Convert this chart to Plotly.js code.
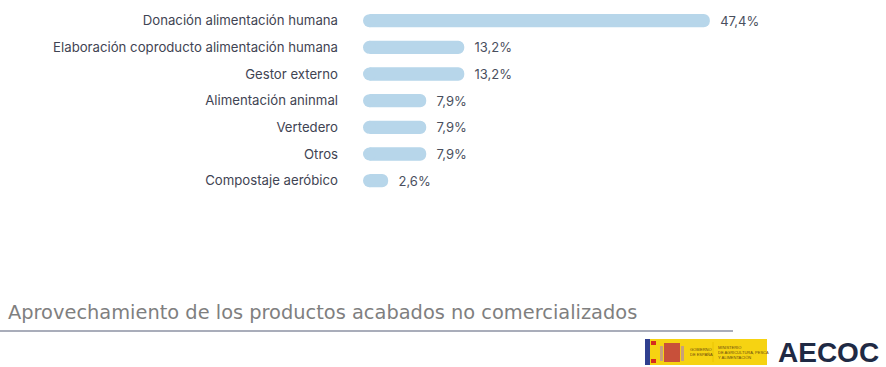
<!DOCTYPE html>
<html>
<head>
<meta charset="utf-8">
<script src="https://cdn.plot.ly/plotly-3.0.1.min.js"></script>
<style>html,body{margin:0;padding:0;background:#fff;}#chart{width:886px;height:367px;}</style>
</head>
<body>
<div id="chart"></div>
<script>
const categories = [
  "Donación alimentación humana",
  "Elaboración coproducto alimentación humana",
  "Gestor externo",
  "Alimentación aninmal",
  "Vertedero",
  "Otros",
  "Compostaje aeróbico"
];
const values = [47.4, 13.2, 13.2, 7.9, 7.9, 7.9, 2.6];
const valueLabels = ["47,4%", "13,2%", "13,2%", "7,9%", "7,9%", "7,9%", "2,6%"];
const chartTitle = "Aprovechamiento de los productos acabados no comercializados";

const W = 886, H = 367;
const px = x => x / W;
const py = y => 1 - y / H;
const barColor = "#b7d6ea";

const bars = {
  type: "bar",
  orientation: "h",
  y: categories,
  x: values,
  width: 0.5,
  marker: { color: barColor, cornerradius: 7 },
  text: valueLabels.map(t => "\u00a0\u00a0" + t),
  textposition: "outside",
  constraintext: "none",
  cliponaxis: false,
  textfont: { family: "Inter, Roboto, sans-serif", size: 13, color: "#4a4f5e" },
  hoverinfo: "skip"
};
const caps = {
  type: "scatter",
  mode: "markers",
  y: categories,
  x: categories.map(() => 0),
  marker: { color: barColor, size: 13, symbol: "circle" },
  cliponaxis: false,
  hoverinfo: "skip"
};

const layout = {
  width: W, height: H,
  margin: { l: 0, r: 0, t: 0, b: 0 },
  paper_bgcolor: "#ffffff",
  plot_bgcolor: "rgba(0,0,0,0)",
  showlegend: false,
  barcornerradius: 7,
  xaxis: {
    domain: [px(363), 1],
    range: [-0.905, 71.94],
    visible: false,
    fixedrange: true
  },
  yaxis: {
    domain: [py(194), py(7.3)],
    type: "category",
    autorange: false,
    range: [6.5, -0.5],
    showgrid: false,
    zeroline: false,
    showline: false,
    ticks: "",
    ticklabelstandoff: 24,
    tickfont: { family: "Inter, Roboto, sans-serif", size: 13.2, color: "#3f4453" }
  },
  shapes: [
    { type: "line", xref: "paper", yref: "paper", x0: 0, x1: px(733), y0: py(331), y1: py(331),
      line: { color: "#8d92a3", width: 1.5 } },
    { type: "rect", xref: "paper", yref: "paper", x0: px(645), x1: px(767), y0: py(365), y1: py(339),
      fillcolor: "#f6d312", line: { width: 0 } },
    { type: "rect", xref: "paper", yref: "paper", x0: px(645), x1: px(650), y0: py(365), y1: py(339),
      fillcolor: "#2f3f8f", line: { width: 0 } },
    { type: "rect", xref: "paper", yref: "paper", x0: px(651), x1: px(656), y0: py(345), y1: py(341),
      fillcolor: "#d52b1e", line: { width: 0 } },
    { type: "rect", xref: "paper", yref: "paper", x0: px(651), x1: px(656), y0: py(363), y1: py(359),
      fillcolor: "#d52b1e", line: { width: 0 } },
    { type: "rect", xref: "paper", yref: "paper", x0: px(664), x1: px(680), y0: py(362), y1: py(343),
      fillcolor: "#c8503a", line: { width: 0 } },
    { type: "rect", xref: "paper", yref: "paper", x0: px(660), x1: px(663), y0: py(361), y1: py(346),
      fillcolor: "#c8a07a", line: { width: 0 } },
    { type: "rect", xref: "paper", yref: "paper", x0: px(681), x1: px(684), y0: py(361), y1: py(346),
      fillcolor: "#c8a07a", line: { width: 0 } },
    { type: "line", xref: "paper", yref: "paper", x0: px(713), x1: px(713), y0: py(362), y1: py(342),
      line: { color: "#e9c200", width: 0.8 } }
  ],
  annotations: [
    { xref: "paper", yref: "paper", x: px(6), y: py(312), xanchor: "left", yanchor: "middle",
      text: chartTitle, showarrow: false,
      font: { family: "DejaVu Sans, sans-serif", size: 19.4, color: "#7f7f7f" } },
    { xref: "paper", yref: "paper", x: px(688), y: py(352), xanchor: "left", yanchor: "middle",
      text: "GOBIERNO<br>DE ESPAÑA", showarrow: false, align: "left",
      font: { family: "Liberation Sans, sans-serif", size: 4, color: "#6b4a10" } },
    { xref: "paper", yref: "paper", x: px(716), y: py(352), xanchor: "left", yanchor: "middle",
      text: "MINISTERIO<br>DE AGRICULTURA, PESCA<br>Y ALIMENTACIÓN", showarrow: false, align: "left",
      font: { family: "Liberation Sans, sans-serif", size: 4, color: "#6b4a10" } },
    { xref: "paper", yref: "paper", x: px(881), y: py(352), xanchor: "right", yanchor: "middle",
      text: "<b>AECOC</b>", showarrow: false,
      font: { family: "Liberation Sans, Arial, sans-serif", size: 28, color: "#1f2a44" } }
  ]
};

Plotly.newPlot("chart", [bars, caps], layout, { staticPlot: true, displayModeBar: false });
</script>
</body>
</html>
